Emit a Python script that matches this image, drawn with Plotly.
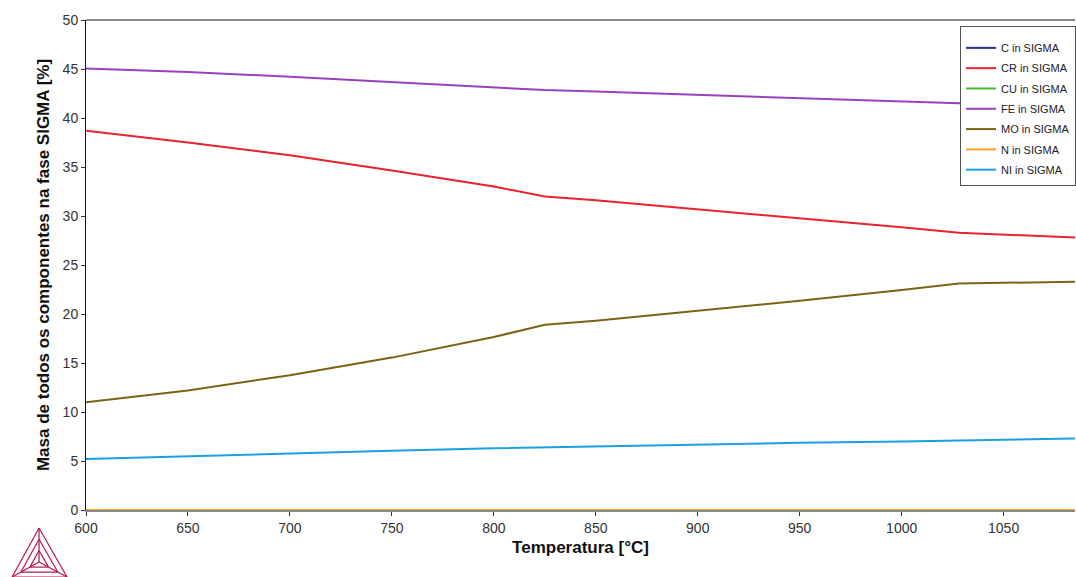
import plotly.graph_objects as go

temps = [600, 650, 700, 750, 800, 825, 850, 900, 950, 1000, 1028, 1085]
c_sigma = [0.0] * 12
cr_sigma = [38.7, 37.5, 36.2, 34.65, 33.0, 32.0, 31.6, 30.7, 29.8, 28.85, 28.3, 27.8]
cu_sigma = [0.0] * 12
fe_sigma = [45.05, 44.7, 44.2, 43.65, 43.1, 42.85, 42.7, 42.35, 42.0, 41.7, 41.5, 41.2]
mo_sigma = [11.0, 12.2, 13.75, 15.55, 17.65, 18.9, 19.3, 20.3, 21.35, 22.45, 23.1, 23.3]
n_sigma = [0.0] * 12
ni_sigma = [5.2, 5.5, 5.8, 6.05, 6.3, 6.4, 6.5, 6.7, 6.85, 7.0, 7.1, 7.3]

series = [
    ("C in SIGMA", c_sigma, "#26338c"),
    ("CR in SIGMA", cr_sigma, "#e8232f"),
    ("CU in SIGMA", cu_sigma, "#4bb834"),
    ("FE in SIGMA", fe_sigma, "#9a40bd"),
    ("MO in SIGMA", mo_sigma, "#7a6413"),
    ("N in SIGMA", n_sigma, "#ffa126"),
    ("NI in SIGMA", ni_sigma, "#1aa1e1"),
]

fig = go.Figure()
for name, vals, col in series:
    fig.add_trace(go.Scatter(x=temps, y=vals, mode="lines", name=name, legendgroup=name,
                             line=dict(color=col, width=2), cliponaxis=True))

font = "Liberation Sans, Arial, sans-serif"
fig.update_layout(
    width=1076, height=577,
    margin=dict(l=86, r=0, t=20, b=67),
    paper_bgcolor="white", plot_bgcolor="white",
    font=dict(family=font, color="#333"),
    showlegend=True,
    legend=dict(x=0.884, y=0.988, xanchor="left", yanchor="top",
                bgcolor="white", bordercolor="#555", borderwidth=1,
                font=dict(size=11, color="#222", family=font),
                title=dict(text=" ", font=dict(size=5)),
                tracegroupgap=1.3, itemwidth=30),
    xaxis=dict(range=[600, 1085], tickvals=[600, 650, 700, 750, 800, 850, 900, 950, 1000, 1050],
               showgrid=False, zeroline=False, showline=True, linecolor="#888", linewidth=2,
               ticks="outside", ticklen=4, tickcolor="#333",
               tickfont=dict(size=14, color="#333"),
               title=dict(text="<b>Temperatura [°C]</b>", font=dict(size=17, color="#111"), standoff=6)),
    yaxis=dict(range=[0, 50], tickvals=list(range(0, 51, 5)),
               showgrid=False, zeroline=False, showline=True, linecolor="#111", linewidth=1,
               mirror=False, ticks="outside", ticklen=4, tickcolor="#333",
               tickfont=dict(size=14, color="#333"),
               title=dict(text="<b>Masa de todos os componentes na fase SIGMA [%]</b>",
                          font=dict(size=17, color="#111"), standoff=8)),
)

# top border line
fig.add_shape(type="line", xref="paper", yref="paper", x0=0, x1=1, y0=1, y1=1,
              line=dict(color="#111", width=1))

# Thermo-Calc style logo (decoration) in pixel-derived paper coords
def px(x, y):
    return ((x - 86) / 990.0, (510 - y) / 490.0)

logo_col = "#b5184a"
apex, bl, br, ctr = (39, 528), (12, 577), (67, 577), (39, 562)
segs = [(apex, bl), (bl, br), (br, apex), (apex, ctr), (bl, ctr), (br, ctr)]
for f in (0.33, 0.66):
    a = (apex[0] + (ctr[0] - apex[0]) * f, apex[1] + (ctr[1] - apex[1]) * f)
    l = (bl[0] + (ctr[0] - bl[0]) * f, bl[1] + (ctr[1] - bl[1]) * f)
    r = (br[0] + (ctr[0] - br[0]) * f, br[1] + (ctr[1] - br[1]) * f)
    segs += [(a, l), (l, r), (r, a)]
for p0, p1 in segs:
    x0, y0 = px(*p0)
    x1, y1 = px(*p1)
    fig.add_shape(type="line", xref="paper", yref="paper", x0=x0, y0=y0, x1=x1, y1=y1,
                  line=dict(color=logo_col, width=1.2))

fig.write_html("out.html")
